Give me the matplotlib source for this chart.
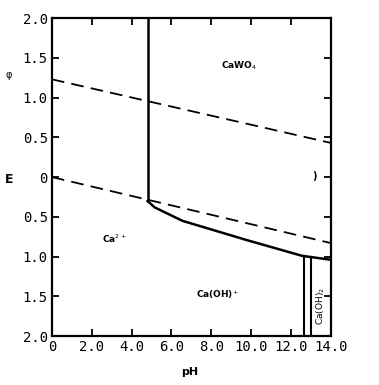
import matplotlib
matplotlib.use('Agg')
import matplotlib.pyplot as plt

# boundary lines (pH, E)
upper_dash_ph = [0, 14]
upper_dash_e = [1.23, 0.43]
lower_dash_ph = [0, 14]
lower_dash_e = [0.0, -0.83]

ca_wo4_ph = [4.8, 4.8]
ca_wo4_e = [2.0, -0.30]

curve_ph = [4.8, 5.15, 6.55, 9.75, 12.55, 14.0]
curve_e = [-0.30, -0.38, -0.55, -0.79, -0.99, -1.04]

vert1_ph = [12.65, 12.65]
vert1_e = [-1.0, -2.0]
vert2_ph = [13.0, 13.0]
vert2_e = [-1.02, -2.0]

xticks = [0, 2, 4, 6, 8, 10, 12, 14]
xticklabels = ['0', '2.0', '4.0', '6.0', '8.0', '10.0', '12.0', '14.0']
yticks = [2.0, 1.5, 1.0, 0.5, 0, -0.5, -1.0, -1.5, -2.0]
yticklabels = ['2.0', '1.5', '1.0', '0.5', '0', '0.5', '1.0', '1.5', '2.0']

fig = plt.figure(figsize=(3.79, 3.85), dpi=100)
ax = fig.add_axes([0.137, 0.127, 0.736, 0.826])

ax.plot(upper_dash_ph, upper_dash_e, 'k--', lw=1.3, dashes=(7, 4))
ax.plot(lower_dash_ph, lower_dash_e, 'k--', lw=1.3, dashes=(7, 4))
ax.plot(ca_wo4_ph, ca_wo4_e, 'k-', lw=1.8)
ax.plot(curve_ph, curve_e, 'k-', lw=1.8)
ax.plot(vert1_ph, vert1_e, 'k-', lw=1.5)
ax.plot(vert2_ph, vert2_e, 'k-', lw=1.5)

ax.set_xlim(0, 14)
ax.set_ylim(-2, 2)
ax.set_xticks(xticks)
ax.set_xticklabels(xticklabels)
ax.set_yticks(yticks)
ax.set_yticklabels(yticklabels)
ax.tick_params(direction='in', length=5, width=1.3, top=True, right=True,
               labelsize=10, pad=3)
for lab in ax.get_xticklabels() + ax.get_yticklabels():
    lab.set_family('DejaVu Sans Mono')
for s in ax.spines.values():
    s.set_linewidth(1.6)

ax.text(9.4, 1.4, r'CaWO$_4$', fontsize=6.5, fontweight='bold', ha='center', va='center')
ax.text(3.15, -0.77, r'Ca$^{2+}$', fontsize=6.5, fontweight='bold', ha='center', va='center')
ax.text(8.3, -1.48, r'Ca(OH)$^{+}$', fontsize=6.5, fontweight='bold', ha='center', va='center')
ax.text(13.5, -1.62, r'Ca(OH)$_2$', fontsize=6.5, rotation=90, ha='center', va='center')
ax.text(13.2, 0.02, ')', fontsize=7, fontweight='bold', ha='center', va='center')

fig.text(190 / 379, 1 - 372 / 385, 'pH', fontsize=8, fontweight='bold',
         ha='center', va='center')
fig.text(9 / 379, 1 - 180 / 385, 'E', fontsize=9, fontweight='bold',
         ha='center', va='center')
fig.text(9 / 379, 1 - 75 / 385, 'φ', fontsize=7, ha='center', va='center')

fig.savefig('out.png', dpi=100)
